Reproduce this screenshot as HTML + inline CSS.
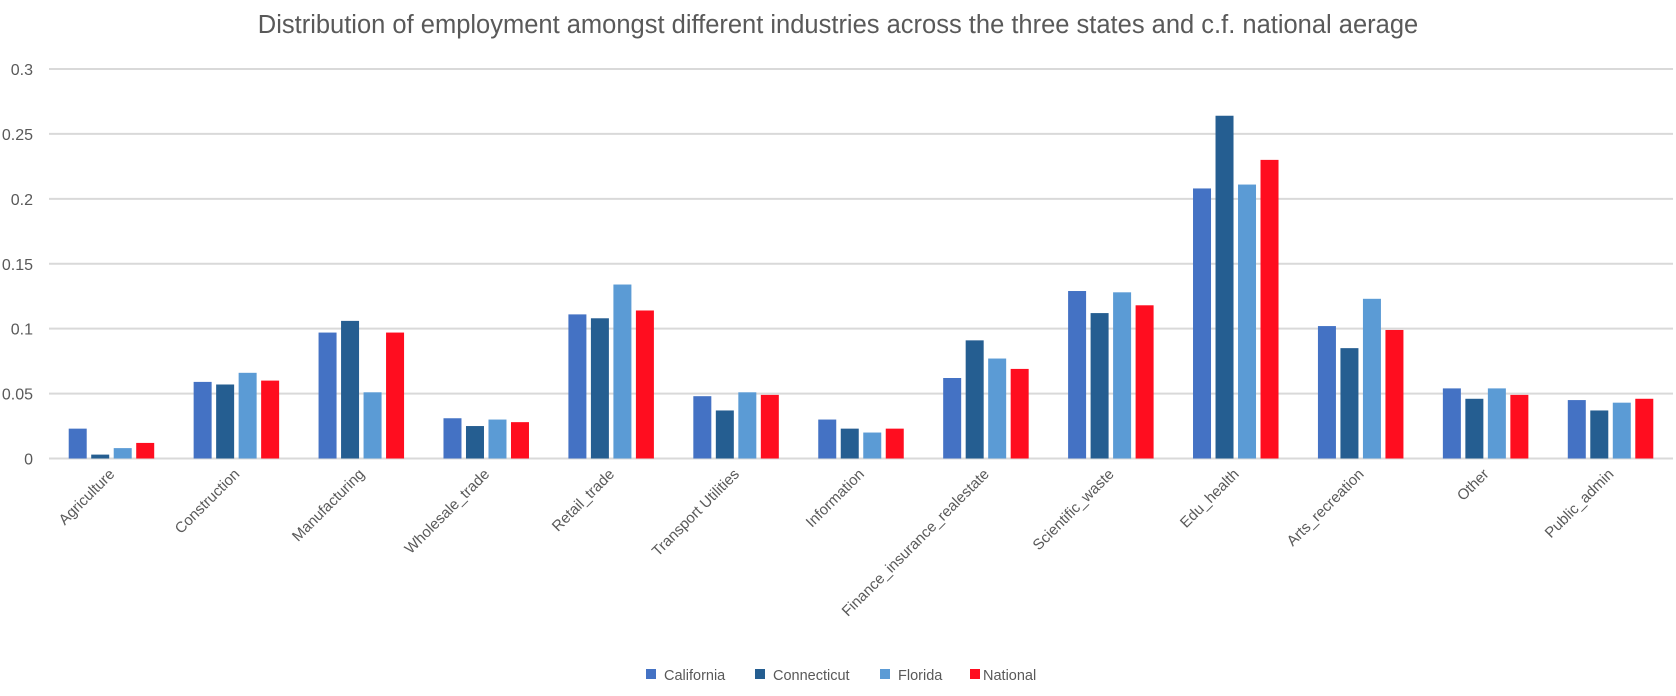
<!DOCTYPE html>
<html><head><meta charset="utf-8">
<style>
html,body{margin:0;padding:0;background:#fff;}
svg{display:block;font-family:"Liberation Sans",sans-serif;}
</style></head>
<body>
<svg id="chart" width="1676" height="696" viewBox="0 0 1676 696" xmlns="http://www.w3.org/2000/svg">
<text x="838" y="33" text-anchor="middle" font-size="25.5" fill="#595959">Distribution of employment amongst different industries across the three states and c.f. national aerage</text>
<g id="grid"></g>
<g id="bars"></g>
<g id="xlabels"></g>
<g id="legend"></g>
</svg>
<script>
const categories = ["Agriculture","Construction","Manufacturing","Wholesale_trade","Retail_trade","Transport Utilities","Information","Finance_insurance_realestate","Scientific_waste","Edu_health","Arts_recreation","Other","Public_admin"];
const seriesNames = ["California","Connecticut","Florida","National"];
const california = [0.023,0.059,0.097,0.031,0.111,0.048,0.030,0.062,0.129,0.208,0.102,0.054,0.045];
const connecticut = [0.003,0.057,0.106,0.025,0.108,0.037,0.023,0.091,0.112,0.264,0.085,0.046,0.037];
const florida = [0.008,0.066,0.051,0.030,0.134,0.051,0.020,0.077,0.128,0.211,0.123,0.054,0.043];
const national = [0.012,0.060,0.097,0.028,0.114,0.049,0.023,0.069,0.118,0.230,0.099,0.049,0.046];
const yTicks = [0,0.05,0.1,0.15,0.2,0.25,0.3];
const yTickLabels = ["0","0.05","0.1","0.15","0.2","0.25","0.3"];

const NS="http://www.w3.org/2000/svg";
const colors=["#4472C4","#255E91","#5B9BD5","#FF0D1F"];
const series=[california,connecticut,florida,national];
const left=49,right=1673,y0=458.5,yTop=69,yMax=0.3;
const yScale=v=>y0-(v/yMax)*(y0-yTop);
const groupW=(right-left)/categories.length;
const xCenter=i=>left+groupW*(i+0.5);
const barW=18,barStep=22.5;
function mk(tag,attrs,parent){const e=document.createElementNS(NS,tag);for(const k in attrs)e.setAttribute(k,attrs[k]);parent.appendChild(e);return e;}
const grid=document.getElementById('grid');
yTicks.forEach((t,i)=>{
  const y=yScale(t);
  const l=mk('line',{x1:left,x2:right,y1:y,y2:y,stroke:'#d9d9d9','stroke-width':2},grid);
  
  
  const tx=mk('text',{x:33,y:y+6,'text-anchor':'end','font-size':16,fill:'#595959'},grid);
  tx.textContent=yTickLabels[i];
  
  
});
const bars=document.getElementById('bars');
series.forEach((s,si)=>{
  s.forEach((v,i)=>{
    const x=xCenter(i)-2*barStep+si*barStep+(barStep-barW)/2;
    const y=yScale(v);
    const r=mk('rect',{x:x,y:y,width:barW,height:y0-y,fill:colors[si]},bars);
    
    
  });
});
const xl=document.getElementById('xlabels');
categories.forEach((c,i)=>{
  const x=xCenter(i)+4,y=475;
  const t=mk('text',{x:x,y:y,'text-anchor':'end','font-size':15,fill:'#595959',transform:`rotate(-45 ${x} ${y})`},xl);
  t.textContent=c;
  
  
});
const lg=document.getElementById('legend');
const legendX=[646,755,880,970];
seriesNames.forEach((n,i)=>{
  const g=mk('g',{},lg);
  
  
  mk('rect',{x:legendX[i],y:669,width:10,height:10,fill:colors[i]},g);
  const t=mk('text',{x:legendX[i]+(i==3?13:18),y:680,'font-size':14.5,fill:'#595959'},g);
  t.textContent=n;
});
</script>
</body></html>
